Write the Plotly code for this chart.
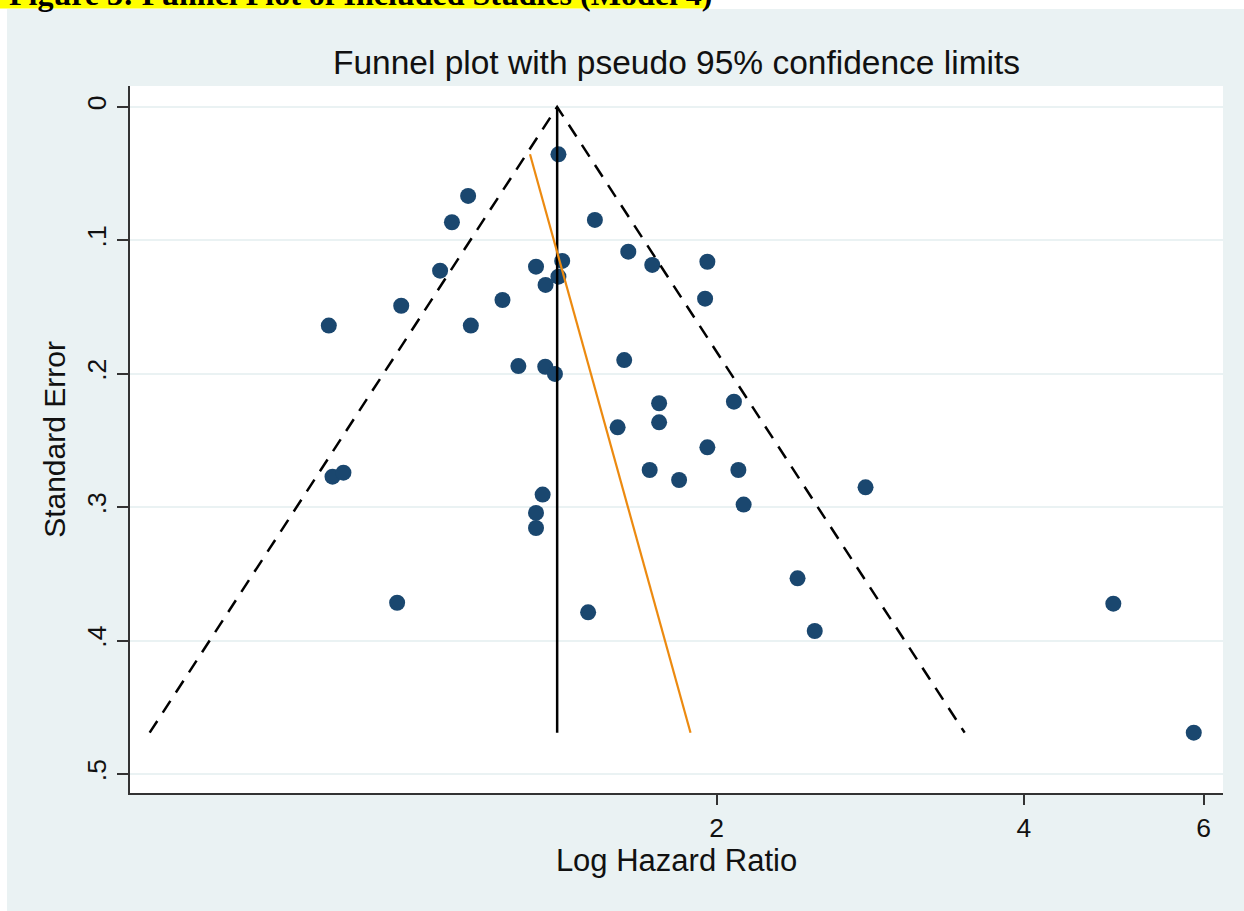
import math
import plotly.graph_objects as go

# ---- data ----
hazard_ratio = [1.400, 1.142, 1.101, 1.520, 1.639, 1.730, 1.959, 1.072, 1.331, 1.412,
                1.400, 1.360, 0.982, 1.234, 1.949, 0.834, 1.149, 1.624, 1.279, 1.359,
                1.389, 1.757, 2.080, 1.757, 1.600, 1.959, 0.841, 0.862, 1.720, 1.838,
                2.101, 1.351, 1.331, 1.331, 2.799, 2.126, 2.401, 0.973, 1.497, 2.496,
                4.895, 5.869]
std_error = [0.0355, 0.0667, 0.0864, 0.0847, 0.1085, 0.1184, 0.1160, 0.1227, 0.1197, 0.1154,
             0.1272, 0.1334, 0.1490, 0.1447, 0.1437, 0.1639, 0.1639, 0.1897, 0.1942, 0.1947,
             0.2001, 0.2221, 0.2209, 0.2364, 0.2401, 0.2551, 0.2771, 0.2741, 0.2721, 0.2796,
             0.2721, 0.2905, 0.3043, 0.3156, 0.2851, 0.2980, 0.3533, 0.3716, 0.3788, 0.3928,
             0.3723, 0.4690]
pooled_hr = 1.396
egger_hr = [1.313, 1.886]
egger_se = [0.0355, 0.469]

x_tickvals = [2, 4, 6]
x_ticktext = ["2", "4", "6"]
y_tickvals = [0, 0.1, 0.2, 0.3, 0.4, 0.5]
y_ticktext = ["0", ".1", ".2", ".3", ".4", ".5"]

title_text = "Funnel plot with pseudo 95% confidence limits"
caption_text = "Figure 3: Funnel Plot of Included Studies (Model 4)"

# pseudo 95% confidence limits
se_max = max(std_error)
lo = math.exp(math.log(pooled_hr) - 1.96 * se_max)
hi = math.exp(math.log(pooled_hr) + 1.96 * se_max)

NAVY = "#1A476F"
BG = "#EAF2F3"
FONT = "Liberation Sans, Arial, Helvetica, sans-serif"

W, H = 1244, 911
L, R, T, B = 130, 21, 86, 118
PW, PH = W - L - R, H - T - B


def xp(px):
    return (px - L) / PW


def yp(py):
    return (H - B - py) / PH


fig = go.Figure()

fig.add_trace(go.Scatter(
    x=hazard_ratio, y=std_error, mode="markers",
    marker=dict(size=16, color=NAVY, line=dict(width=0)),
    hoverinfo="x+y", showlegend=False))

fig.add_trace(go.Scatter(
    x=[lo, pooled_hr, hi], y=[se_max, 0, se_max], mode="lines",
    line=dict(color="black", width=2.5, dash="14px,10px"), showlegend=False))

fig.add_trace(go.Scatter(
    x=[pooled_hr, pooled_hr], y=[0, se_max], mode="lines",
    line=dict(color="black", width=2.5), showlegend=False))

fig.add_trace(go.Scatter(
    x=egger_hr, y=egger_se, mode="lines",
    line=dict(color="#EC8A10", width=2.2), showlegend=False))

shapes = [
    dict(type="rect", xref="paper", yref="paper", x0=xp(0), x1=xp(7), y0=yp(H), y1=yp(0),
         fillcolor="white", line=dict(width=0), layer="below"),
    dict(type="rect", xref="paper", yref="paper", x0=xp(0), x1=xp(W), y0=yp(9), y1=yp(0),
         fillcolor="white", line=dict(width=0), layer="below"),
    dict(type="rect", xref="paper", yref="paper", x0=xp(0), x1=xp(709), y0=yp(8.5), y1=yp(0),
         fillcolor="#FFFF00", line=dict(width=0), layer="below"),
]

annotations = [
    dict(text="<b>" + caption_text + "</b>", xref="paper", yref="paper",
         x=xp(7), y=yp(-6), xanchor="left", yanchor="middle", showarrow=False,
         font=dict(family="Liberation Serif, Times New Roman, serif", size=32, color="black")),
]

fig.update_layout(
    width=W, height=H,
    margin=dict(l=L, r=R, t=T, b=B, pad=0),
    paper_bgcolor=BG, plot_bgcolor="white",
    font=dict(family=FONT, color="#111111"),
    title=dict(text=title_text, x=0.5, xref="paper", xanchor="center",
               y=1 - 62.5 / H, yref="container", yanchor="middle",
               font=dict(size=33.5, color="#111111", family=FONT)),
    shapes=shapes, annotations=annotations, showlegend=False,
    xaxis=dict(type="log", range=[-0.2736, 0.7972],
               tickmode="array", tickvals=x_tickvals, ticktext=x_ticktext,
               ticks="outside", ticklen=10, tickwidth=1.5, tickcolor="#333333",
               showgrid=False, zeroline=False,
               showline=True, linecolor="#333333", linewidth=2,
               tickfont=dict(size=26.5, color="#111111"),
               title=dict(text="Log Hazard Ratio", font=dict(size=31, color="#111111"), standoff=4)),
    yaxis=dict(range=[0.5142, -0.0157],
               tickmode="array", tickvals=y_tickvals, ticktext=y_ticktext, tickangle=-90,
               ticks="outside", ticklen=11, tickwidth=1.5, tickcolor="#333333",
               showgrid=True, gridcolor=BG, gridwidth=2,
               zeroline=False,
               showline=True, linecolor="#333333", linewidth=2,
               tickfont=dict(size=26.5, color="#111111"),
               title=dict(text="Standard Error", font=dict(size=30, color="#111111"), standoff=8)),
)

fig.write_html("out.html", config={"displayModeBar": False},
               post_script="document.body.style.margin='0';")
